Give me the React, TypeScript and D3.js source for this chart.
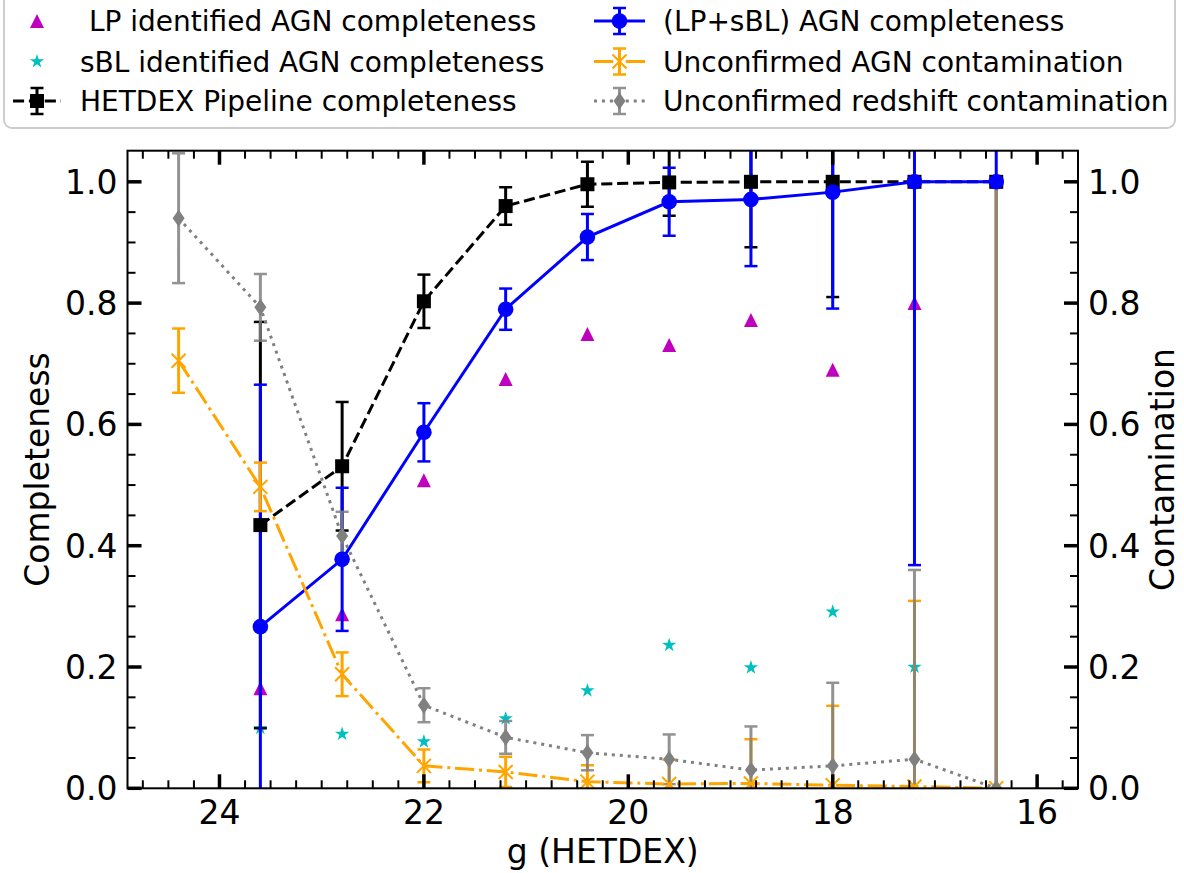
import React, { useRef, useEffect } from "react";
import * as d3 from "d3";

// g magnitude bins
const magAll = [24.4, 23.6, 22.8, 22.0, 21.2, 20.4, 19.6, 18.8, 18.0, 17.2, 16.4];
const magComp = [23.6, 22.8, 22.0, 21.2, 20.4, 19.6, 18.8, 18.0, 17.2, 16.4];
const magScatter = [23.6, 22.8, 22.0, 21.2, 20.4, 19.6, 18.8, 18.0, 17.2];

// scatter completeness
const lpComp = [0.165, 0.287, 0.508, 0.675, 0.749, 0.731, 0.772, 0.69, 0.8];
const sblComp = [0.099, 0.0895, 0.077, 0.115, 0.161, 0.236, 0.199, 0.291, 0.2];

// errorbar series
const hetdexComp = [0.434, 0.531, 0.803, 0.96, 0.996, 0.999, 1.0, 1.0, 1.0, 1.0];
const hetdexErr = [0.335, 0.106, 0.044, 0.031, 0.037, 0.055, 0.108, 0.19, 0, 0];
const agnComp = [0.2665, 0.3775, 0.587, 0.79, 0.909, 0.967, 0.971, 0.983, 1.0, 1.0];
const agnErr = [0.399, 0.118, 0.048, 0.034, 0.038, 0.056, 0.11, 0.192, 0.632, 1.1];
const agnCont = [0.705, 0.497, 0.188, 0.037, 0.027, 0.011, 0.007, 0.008, 0.005, 0.003, 0.0];
const agnContErr = [0.053, 0.04, 0.036, 0.027, 0.025, 0.027, 0.04, 0.073, 0.131, 0.306, 1.0];
const zCont = [0.94, 0.793, 0.416, 0.137, 0.084, 0.0587, 0.0478, 0.03, 0.037, 0.048, 0.0];
const zContErr = [0.107, 0.055, 0.04, 0.028, 0.027, 0.029, 0.041, 0.072, 0.137, 0.312, 1.0];

const xTicks = [24, 22, 20, 18, 16];
const yTicks = [0, 0.2, 0.4, 0.6, 0.8, 1.0];

const W = 1184;
const H = 873;
const M = { left: 127.5, right: 1078, top: 150.7, bottom: 788.3 };
const FONT = "DejaVu Sans, sans-serif";

const starPath = (R: number) => {
    const r = R * 0.381966;
    let p = "";
    for (let k = 0; k < 10; k++) {
        const a = (-90 + k * 36) * Math.PI / 180;
        const rr = k % 2 === 0 ? R : r;
        p += (k === 0 ? "M" : "L") + (rr * Math.cos(a)).toFixed(2) + "," + (rr * Math.sin(a)).toFixed(2);
    }
    return p + "Z";
};

// draw a marker of a given kind into g at (cx, cy)
const marker = (g: any, kind: string, cx: number, cy: number) => {
    if (kind === "circle") {
        g.append("circle").attr("cx", cx).attr("cy", cy).attr("r", 7.8).attr("fill", "#0000ff");
    } else if (kind === "square") {
        g.append("rect").attr("x", cx - 7).attr("y", cy - 7).attr("width", 14).attr("height", 14).attr("fill", "#000");
    } else if (kind === "diamond") {
        g.append("path").attr("d", `M${cx},${cy - 8.5}L${cx + 6},${cy}L${cx},${cy + 8.5}L${cx - 6},${cy}Z`).attr("fill", "gray");
    } else if (kind === "x") {
        g.append("path")
            .attr("d", `M${cx - 7},${cy - 7}L${cx + 7},${cy + 7}M${cx - 7},${cy + 7}L${cx + 7},${cy - 7}`)
            .attr("stroke", "orange").attr("stroke-width", 2).attr("fill", "none");
    } else if (kind === "triangle") {
        g.append("path").attr("d", `M${cx},${cy - 7}L${cx + 7},${cy + 7}L${cx - 7},${cy + 7}Z`).attr("fill", "#bf00bf");
    } else if (kind === "star") {
        g.append("path").attr("d", starPath(7.5)).attr("transform", `translate(${cx},${cy})`).attr("fill", "#00bfbf");
    }
};

const errBar = (g: any, cx: number, y0: number, y1: number, color: string, opacity = 1) => {
    const eg = g.append("g").attr("stroke", color).attr("opacity", opacity).attr("fill", "none");
    eg.append("line").attr("x1", cx).attr("x2", cx).attr("y1", y0).attr("y2", y1).attr("stroke-width", 3);
    [y0, y1].forEach((yy) => {
        eg.append("line").attr("x1", cx - 6.5).attr("x2", cx + 6.5).attr("y1", yy).attr("y2", yy).attr("stroke-width", 2.5);
    });
};

const series = [
    { name: "HETDEX Pipeline completeness", xs: magComp, ys: hetdexComp, err: hetdexErr, color: "#000000", dash: "11.1,4.8", mk: "square", barOpacity: 1 },
    { name: "(LP+sBL) AGN completeness", xs: magComp, ys: agnComp, err: agnErr, color: "#0000ff", dash: null, mk: "circle", barOpacity: 1 },
    { name: "Unconfirmed AGN contamination", xs: magAll, ys: agnCont, err: agnContErr, color: "orange", dash: "19.2,4.8,3,4.8", mk: "x", barOpacity: 1 },
    { name: "Unconfirmed redshift contamination", xs: magAll, ys: zCont, err: zContErr, color: "gray", dash: "3,4.95", mk: "diamond", barOpacity: 0.85 },
];

const App = () => {
    const svgRef = useRef<SVGSVGElement>(null);

    useEffect(() => {
        const svg = d3.select(svgRef.current);
        svg.selectAll("*").remove();

        const x = d3.scaleLinear().domain([24.9, 15.6]).range([M.left, M.right]);
        const y = d3.scaleLinear().domain([0, 1.0513]).range([M.bottom, M.top]);

        svg.append("rect").attr("width", W).attr("height", H).attr("fill", "#fff");

        svg.append("defs").append("clipPath").attr("id", "plotclip")
            .append("rect").attr("x", M.left).attr("y", M.top)
            .attr("width", M.right - M.left).attr("height", M.bottom - M.top);

        const plot = svg.append("g").attr("clip-path", "url(#plotclip)");

        // scatter points (lowest layer)
        magScatter.forEach((m, i) => marker(plot, "triangle", x(m), y(lpComp[i])));
        magScatter.forEach((m, i) => marker(plot, "star", x(m), y(sblComp[i])));

        // error bars
        series.forEach((s) => {
            s.xs.forEach((m, i) => {
                if (s.err[i] > 0) errBar(plot, x(m), y(s.ys[i] - s.err[i]), y(s.ys[i] + s.err[i]), s.color, s.barOpacity);
            });
        });

        // data lines + markers
        series.forEach((s) => {
            const pts: [number, number][] = s.xs.map((m, i) => [x(m), y(s.ys[i])]);
            plot.append("path")
                .attr("d", d3.line()(pts))
                .attr("fill", "none")
                .attr("stroke", s.color)
                .attr("stroke-width", 3)
                .attr("stroke-dasharray", s.dash)
                .attr("stroke-linecap", "butt");
            pts.forEach((p) => marker(plot, s.mk, p[0], p[1]));
        });

        // ticks (inward, all four sides)
        const axes = svg.append("g").attr("stroke", "#000");
        const minorX = d3.range(15.75, 25, 0.25).filter((v) => Math.abs(v - Math.round(v / 2) * 2) > 1e-6);
        const minorY = d3.range(0.05, 1.05, 0.05).filter((v) => Math.abs(v * 5 - Math.round(v * 5)) > 1e-6);
        minorX.forEach((v) => {
            axes.append("line").attr("x1", x(v)).attr("x2", x(v)).attr("y1", M.bottom).attr("y2", M.bottom - 8).attr("stroke-width", 2);
            axes.append("line").attr("x1", x(v)).attr("x2", x(v)).attr("y1", M.top).attr("y2", M.top + 8).attr("stroke-width", 2);
        });
        xTicks.forEach((v) => {
            axes.append("line").attr("x1", x(v)).attr("x2", x(v)).attr("y1", M.bottom).attr("y2", M.bottom - 14).attr("stroke-width", 3.5);
            axes.append("line").attr("x1", x(v)).attr("x2", x(v)).attr("y1", M.top).attr("y2", M.top + 14).attr("stroke-width", 3.5);
        });
        minorY.forEach((v) => {
            axes.append("line").attr("y1", y(v)).attr("y2", y(v)).attr("x1", M.left).attr("x2", M.left + 8).attr("stroke-width", 2);
            axes.append("line").attr("y1", y(v)).attr("y2", y(v)).attr("x1", M.right).attr("x2", M.right - 8).attr("stroke-width", 2);
        });
        yTicks.forEach((v) => {
            axes.append("line").attr("y1", y(v)).attr("y2", y(v)).attr("x1", M.left).attr("x2", M.left + 14).attr("stroke-width", 3.5);
            axes.append("line").attr("y1", y(v)).attr("y2", y(v)).attr("x1", M.right).attr("x2", M.right - 14).attr("stroke-width", 3.5);
        });

        // spines
        svg.append("rect").attr("x", M.left).attr("y", M.top)
            .attr("width", M.right - M.left).attr("height", M.bottom - M.top)
            .attr("fill", "none").attr("stroke", "#000").attr("stroke-width", 2);

        // tick labels
        const labels = svg.append("g").attr("font-family", FONT).attr("font-size", 33).attr("fill", "#000");
        xTicks.forEach((v) => {
            labels.append("text").attr("x", x(v)).attr("y", M.bottom + 36).attr("text-anchor", "middle").text(d3.format("d")(v));
        });
        yTicks.forEach((v) => {
            labels.append("text").attr("x", M.left - 10).attr("y", y(v) + 12).attr("text-anchor", "end").text(d3.format(".1f")(v));
            labels.append("text").attr("x", M.right + 10).attr("y", y(v) + 12).attr("text-anchor", "start").text(d3.format(".1f")(v));
        });

        // axis titles
        const titles = svg.append("g").attr("font-family", FONT).attr("font-size", 33).attr("fill", "#000");
        titles.append("text").attr("x", (M.left + M.right) / 2).attr("y", 863).attr("text-anchor", "middle").text("g (HETDEX)");
        titles.append("text").attr("transform", `translate(49,${(M.top + M.bottom) / 2}) rotate(-90)`)
            .attr("text-anchor", "middle").text("Completeness");
        titles.append("text").attr("transform", `translate(1174,${(M.top + M.bottom) / 2}) rotate(-90)`)
            .attr("text-anchor", "middle").text("Contamination");

        // legend
        const leg = svg.append("g").attr("font-family", FONT).attr("font-size", 28);
        leg.append("rect").attr("x", 4).attr("y", -12).attr("width", 1171).attr("height", 140).attr("rx", 8)
            .attr("fill", "#fff").attr("fill-opacity", 0.8).attr("stroke", "#cccccc").attr("stroke-width", 2);
        const rows = [21, 61.5, 101];
        const legText = (tx: number, ty: number, s: string) =>
            leg.append("text").attr("x", tx).attr("y", ty + 10.2).attr("xml:space", "preserve")
                .style("white-space", "pre").attr("fill", "#000").text(s);

        marker(leg, "triangle", 37, rows[0]);
        legText(80, rows[0], " LP identified AGN completeness");
        marker(leg, "star", 37, rows[1]);
        legText(80, rows[1], "sBL identified AGN completeness");

        const legSeries = (s: any, x0: number, x1: number, ry: number, tx: number) => {
            const cx = (x0 + x1) / 2;
            errBar(leg, cx, ry - 13, ry + 13, s.color, s.barOpacity);
            leg.append("line").attr("x1", x0).attr("x2", x1).attr("y1", ry).attr("y2", ry)
                .attr("stroke", s.color).attr("stroke-width", 3).attr("stroke-dasharray", s.dash);
            marker(leg, s.mk, cx, ry);
            legText(tx, ry, s.name);
        };
        legSeries(series[0], 13, 61, rows[2], 80);
        legSeries(series[1], 594, 645, rows[0], 663);
        legSeries(series[2], 594, 645, rows[1], 663);
        legSeries(series[3], 594, 645, rows[2], 663);
    }, []);

    return (
        <svg ref={svgRef} width={W} height={H} style={{ position: "absolute", left: 0, top: 0 }} />
    );
};

export default App;
